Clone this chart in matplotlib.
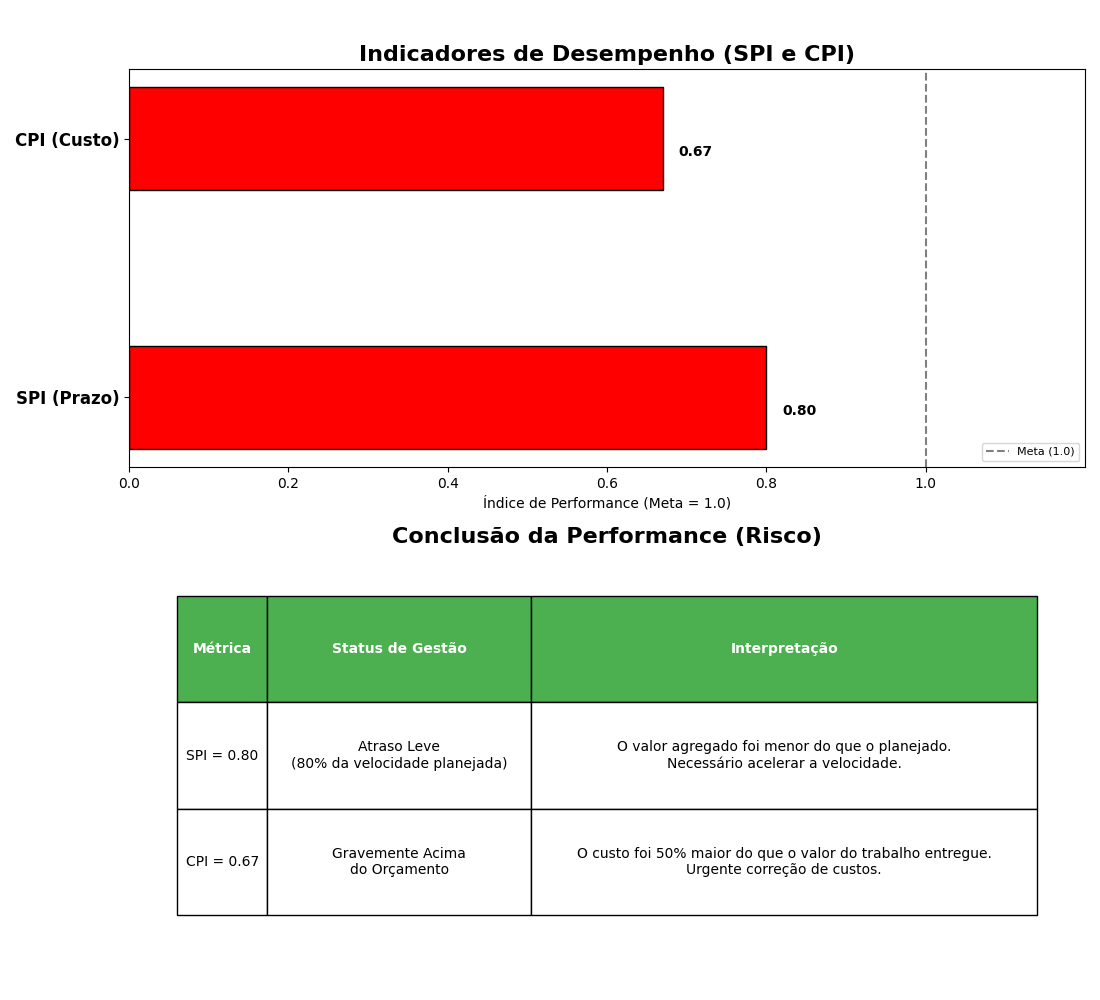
import matplotlib
matplotlib.use("Agg")
import matplotlib.pyplot as plt

categories = ["SPI (Prazo)", "CPI (Custo)"]
values = [0.80, 0.67]
meta = 1.0

col_labels = ["Métrica", "Status de Gestão", "Interpretação"]
rows = [
    ["SPI = 0.80", "Atraso Leve\n(80% da velocidade planejada)",
     "O valor agregado foi menor do que o planejado.\nNecessário acelerar a velocidade."],
    ["CPI = 0.67", "Gravemente Acima\ndo Orçamento",
     "O custo foi 50% maior do que o valor do trabalho entregue.\nUrgente correção de custos."],
]

fig = plt.figure(figsize=(11, 10), dpi=100)
ax = fig.add_axes([0.1173, 0.533, 0.8691, 0.398])
ypos = list(range(len(categories)))
ax.barh(ypos, values, height=0.4, color="red", edgecolor="black")
ax.axvline(meta, color="gray", linestyle="--", label="Meta (1.0)")
for y, v in zip(ypos, values):
    ax.text(v + 0.02, y - 0.052, f"{v:.2f}", va="center", ha="left",
            fontsize=10, fontweight="bold")
ax.set_yticks(ypos)
ax.set_yticklabels(categories, fontsize=12, fontweight="bold")
ax.set_xlim(0, 1.2)
ax.set_xticks([0.0, 0.2, 0.4, 0.6, 0.8, 1.0])
ax.set_xlabel("Índice de Performance (Meta = 1.0)")
ax.set_title("Indicadores de Desempenho (SPI e CPI)", fontsize=16, fontweight="bold")
ax.legend(loc="lower right", fontsize=8)

ax2 = fig.add_axes([0.1173, 0.05, 0.8691, 0.399])
ax2.axis("off")
ax2.set_title("Conclusão da Performance (Risco)", fontsize=16, fontweight="bold")
tbl = ax2.table(cellText=rows, colLabels=col_labels, cellLoc="center",
                colWidths=[0.105, 0.307, 0.588],
                bbox=[0.0502, 0.0877, 0.8996, 0.7995])
tbl.auto_set_font_size(False)
tbl.set_fontsize(10)
for (r, c), cell in tbl.get_celld().items():
    cell.set_edgecolor("black")
    if r == 0:
        cell.set_facecolor("#4CAF50")
        cell.get_text().set_color("white")
        cell.get_text().set_fontweight("bold")

fig.savefig("out.png", dpi=100)
